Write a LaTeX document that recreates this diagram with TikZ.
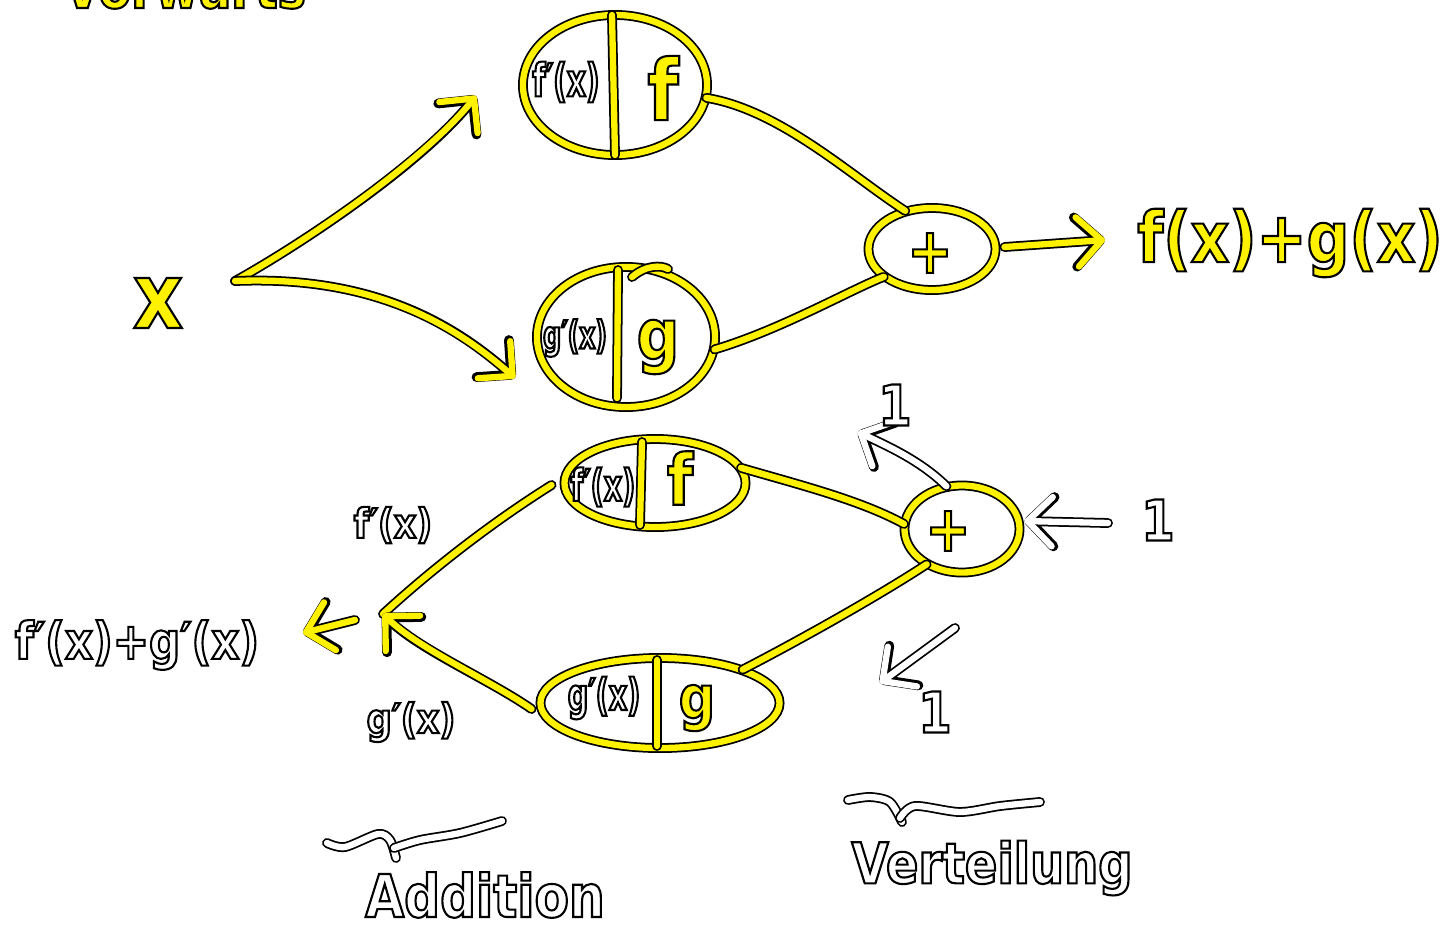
\documentclass[tikz,border=0pt]{standalone}
\usepackage{fontspec}
\newfontfamily\hand[FakeStretch=0.85]{DejaVu Sans}
\newfontfamily\handc[FakeStretch=0.65]{DejaVu Sans}
\usetikzlibrary{arrows.meta,calc,shapes.geometric}
\newcommand{\yt}[1]{{\hand\bfseries\color{yellow}\special{pdf:literal direct 0 0 0 RG 0.6 w 2 Tr}#1\special{pdf:literal direct 0 Tr}}}
\newcommand{\wt}[1]{{\hand\bfseries\color{white}\special{pdf:literal direct 0 0 0 RG 0.6 w 2 Tr}#1\special{pdf:literal direct 0 Tr}}}
\newcommand{\wtc}[1]{{\handc\bfseries\color{white}\special{pdf:literal direct 0 0 0 RG 0.6 w 2 Tr}#1\special{pdf:literal direct 0 Tr}}}
\newcommand{\YD}[2][]{\draw[blk,#1]#2;\draw[ylw,#1]#2;}
\newcommand{\WD}[2][]{\draw[blk,#1]#2;\draw[wht,#1]#2;}
\tikzset{
  blk/.style={draw=black, line width=2.8pt, line cap=round, line join=round},
  ylw/.style={draw=yellow, line width=1.8pt, line cap=round, line join=round},
  wht/.style={draw=white, line width=1.8pt, line cap=round, line join=round},
  yell/.style={ellipse, draw=black, double=yellow, double distance=1.8pt, line width=0.5pt, inner sep=0pt},
  tip/.style={-{Straight Barb[length=7pt, width=14pt, round]}},
  fs/.style={font=\fontsize{#1}{#1}\selectfont, inner sep=0pt},
}
\begin{document}
\begin{tikzpicture}[x=0.01cm, y=-0.01cm]
\fill[white] (0,0) rectangle (1454,936);
\useasboundingbox (0,0) rectangle (1454,936);

% title, cut at the top edge
\node[fs=16, anchor=base] (title) at (185,8) {\yt{Vorwärts}};

% forward part
\node[yell, minimum width=1.84cm, minimum height=1.40cm] (F1) at (615,85) {};
\node[yell, minimum width=1.78cm, minimum height=1.40cm] (G1) at (626,337) {};
\node[yell, minimum width=1.27cm, minimum height=0.82cm] (P1) at (932,249) {};
\YD{($(F1.center)+(-3,-70)$) -- ($(F1.center)+(0,70)$)}
\YD{($(G1.center)+(-8,-67)$) -- ($(G1.center)+(-9,61)$)}
\YD{($(G1.center)+(6,-60)$) .. controls ($(G1.center)+(20,-72)$) and ($(G1.center)+(35,-72)$) .. ($(G1.center)+(42,-68)$)}

\node[fs=13] (F1l) at (566,82) {\wtc{f′(x)}};
\node[fs=24] (F1r) at (663,88) {\yt{f}};
\node[fs=11] (G1l) at (575,338) {\wtc{g′(x)}};
\node[fs=20] (G1r) at (658,347) {\yt{g}};
\node[fs=18] (P1l) at (930,253) {\yt{+}};

\node[fs=26] (x) at (158,303) {\yt{x}};
\coordinate (X0) at (235,281);
\coordinate (XT) at (476,96);
\coordinate (XB) at (515,378);
\YD[tip]{(X0) .. controls (300,245) and (420,165) .. (XT)}
\YD[tip]{(X0) .. controls (380,275) and (460,330) .. (XB)}
\YD{(F1.-8) .. controls (780,110) and (850,175) .. (P1.125)}
\YD{(G1.-8) .. controls (780,330) and (850,290) .. (P1.210)}
\coordinate (R) at (1105,240);
\YD[tip]{($(P1.east)+(8,-2)$) -- (R)}
\node[fs=20] (res) at (1290,243) {\yt{f(x)+g(x)}};

% backward part
\node[yell, minimum width=1.81cm, minimum height=0.88cm] (F2) at (655,483) {};
\node[yell, minimum width=2.39cm, minimum height=0.90cm] (G2) at (660,703) {};
\node[yell, minimum width=1.15cm, minimum height=0.87cm] (P2) at (962,529) {};
\YD{($(F2.center)+(-13,-41)$) -- ($(F2.center)+(-15,42)$)}
\YD{($(G2.center)+(-3,-43)$) -- ($(G2.center)+(-3,43)$)}

\node[fs=12.5] (F2l) at (603,487) {\wtc{f′(x)}};
\node[fs=20] (F2r) at (680,478) {\yt{f}};
\node[fs=12.5] (G2l) at (604,698) {\wtc{g′(x)}};
\node[fs=17] (G2r) at (697,708) {\yt{g}};
\node[fs=18] (P2l) at (948,531) {\yt{+}};

\YD{(F2.10) .. controls (800,485) and (860,500) .. (P2.175)}
\YD{(P2.225) .. controls (880,595) and (800,640) .. (G2.22)}
\coordinate (J) at (383,614);
\YD{($(F2.west)+(-12,2)$) .. controls (480,530) and (420,580) .. (J)}
\YD[tip]{($(G2.west)+(-8,6)$) .. controls (490,680) and (420,650) .. (J)}
\coordinate (O1) at (355,620);
\coordinate (O2) at (303,633);
\YD[tip]{(O1) -- (O2)}
\node[fs=14.5] (out) at (137,645) {\wt{f′(x)+g′(x)}};
\node[fs=11.6] (lf) at (393,525) {\wt{f′(x)}};
\node[fs=11.7] (lg) at (411,722) {\wt{g′(x)}};

% white gradient arrows
\coordinate (W1) at (858,432);
\coordinate (W2s) at (1108,523);
\coordinate (W3s) at (955,628);
\coordinate (W3) at (880,683);
\WD[tip]{(P2.110) .. controls (920,460) and (885,445) .. (W1)}
\WD[tip]{(W2s) -- ($(P2.east)+(4,-8)$)}
\WD[tip]{(W3s) -- (W3)}
\node[fs=16] (one1) at (895,405) {\wt{1}};
\node[fs=16] (one2) at (1158,520) {\wt{1}};
\node[fs=16] (one3) at (935,712) {\wt{1}};

% braces and captions
\WD{plot[smooth] coordinates {(327,843) (345,847) (378,834) (390,840) (396,858)}}
\WD{plot[smooth] coordinates {(394,848) (420,840) (460,833) (502,821)}}
\WD{plot[smooth] coordinates {(848,800) (870,797) (890,802) (902,822)}}
\WD{plot[smooth] coordinates {(900,818) (915,806) (960,812) (1000,806) (1040,802)}}
\node[fs=16.8] (add) at (485,895) {\wt{Addition}};
\node[fs=16] (vert) at (992,868) {\wt{Verteilung}};
\end{tikzpicture}
\end{document}
